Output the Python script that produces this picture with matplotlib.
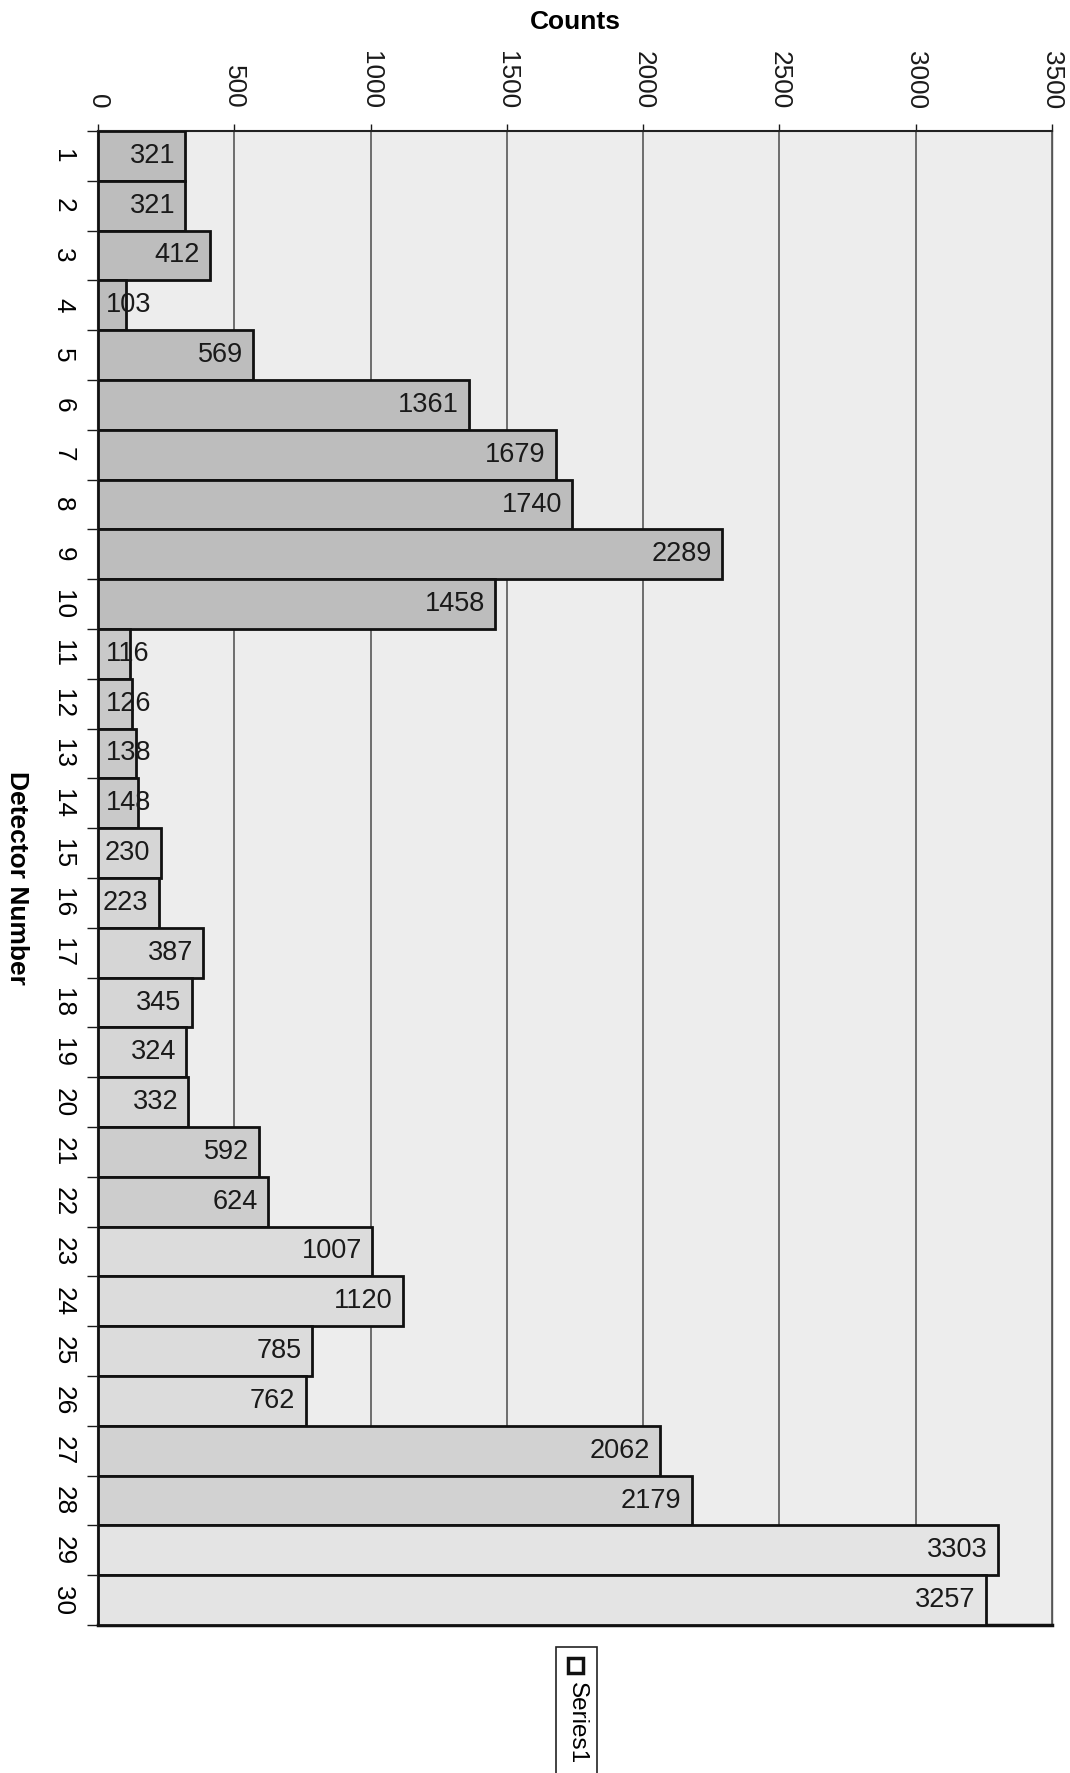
import matplotlib
matplotlib.use("Agg")
import matplotlib.pyplot as plt
from matplotlib.patches import Rectangle
import numpy as np

plt.rcParams['font.family'] = ['Liberation Sans', 'DejaVu Sans']

detectors = [str(i) for i in range(1, 31)]
counts = [321, 321, 412, 103, 569, 1361, 1679, 1740, 2289, 1458,
          116, 126, 138, 148, 230, 223, 387, 345, 324, 332,
          592, 624, 1007, 1120, 785, 762, 2062, 2179, 3303, 3257]
count_ticks = [0, 500, 1000, 1500, 2000, 2500, 3000, 3500]
series_name = "Series1"

# per-bar shading to mimic the scanned greys
bar_colors = (['#bdbdbd'] * 10 + ['#c9c9c9'] * 4 + ['#d6d6d6'] * 6 +
              ['#cdcdcd'] * 2 + ['#dcdcdc'] * 4 + ['#d2d2d2'] * 2 + ['#e4e4e4'] * 2)

W, H = 1070, 1773
fig = plt.figure(figsize=(W / 100, H / 100), dpi=100)
fig.patch.set_facecolor('white')
ax = fig.add_axes([98 / W, 1 - 1625 / H, (1052 - 98) / W, (1625 - 131) / H])
ax.set_facecolor('#ededed')

pos = np.arange(len(counts))
bars = ax.barh(pos, counts, height=1.0, color=bar_colors, edgecolor='#111111',
               linewidth=2, zorder=3)

for p, v in zip(pos, counts):
    if v < 200:
        ax.annotate(str(v), xy=(0, p), xytext=(6, 0), textcoords='offset points',
                    ha='left', va='center', fontsize=19.5, color='#1a1a1a', zorder=4)
    else:
        ax.annotate(str(v), xy=(v, p), xytext=(-7.5, 0), textcoords='offset points',
                    ha='right', va='center', fontsize=19.5, color='#1a1a1a', zorder=4)

ax.set_xlim(0, 3500)
ax.set_ylim(len(counts) - 0.5, -0.5)

# x axis on top
ax.xaxis.tick_top()
ax.xaxis.set_label_position('top')
ax.set_xticks(count_ticks)
ax.set_xticklabels([str(t) for t in count_ticks], rotation=-90, fontsize=18.8)
ax.tick_params(axis='x', length=5, width=1, pad=11, colors='#1a1a1a')
ax.grid(axis='x', color='#4a4a4a', linewidth=1.1, zorder=1)

# y axis: boundary ticks (major) and centred labels (minor)
ax.set_yticks(np.arange(-0.5, len(counts), 1.0))
ax.set_yticklabels([])
ax.tick_params(axis='y', which='major', length=8, width=1, colors='#1a1a1a')
ax.set_yticks(pos, minor=True)
ax.set_yticklabels(detectors, minor=True, rotation=-90, fontsize=18.8,
                   ha='center', va='center')
ax.tick_params(axis='y', which='minor', length=0, pad=25)

for side in ['top', 'left']:
    ax.spines[side].set_linewidth(1.5)
    ax.spines[side].set_color('#222222')
ax.spines['bottom'].set_linewidth(2.5)
ax.spines['bottom'].set_color('#111111')
ax.spines['right'].set_linewidth(1.0)
ax.spines['right'].set_color('#555555')

fig.text(575 / W, 1 - 22 / H, "Counts", ha='center', va='center',
         fontsize=19, fontweight='bold')
fig.text(17 / W, 1 - 878 / H, "Detector Number", ha='center', va='center',
         rotation=-90, fontsize=19, fontweight='bold')

# legend box (rotated)
fig.patches.append(Rectangle((556 / W, 1 - 1790 / H), 41 / W, (1790 - 1647) / H,
                             transform=fig.transFigure, facecolor='white',
                             edgecolor='#222222', linewidth=1.2))
fig.patches.append(Rectangle((568 / W, 1 - 1673 / H), 15 / W, 15 / H,
                             transform=fig.transFigure, facecolor='white',
                             edgecolor='#111111', linewidth=2.5))
fig.text(577 / W, 1 - 1723 / H, series_name, ha='center', va='center',
         rotation=-90, fontsize=17.5)

fig.savefig('out.png', dpi=100)
